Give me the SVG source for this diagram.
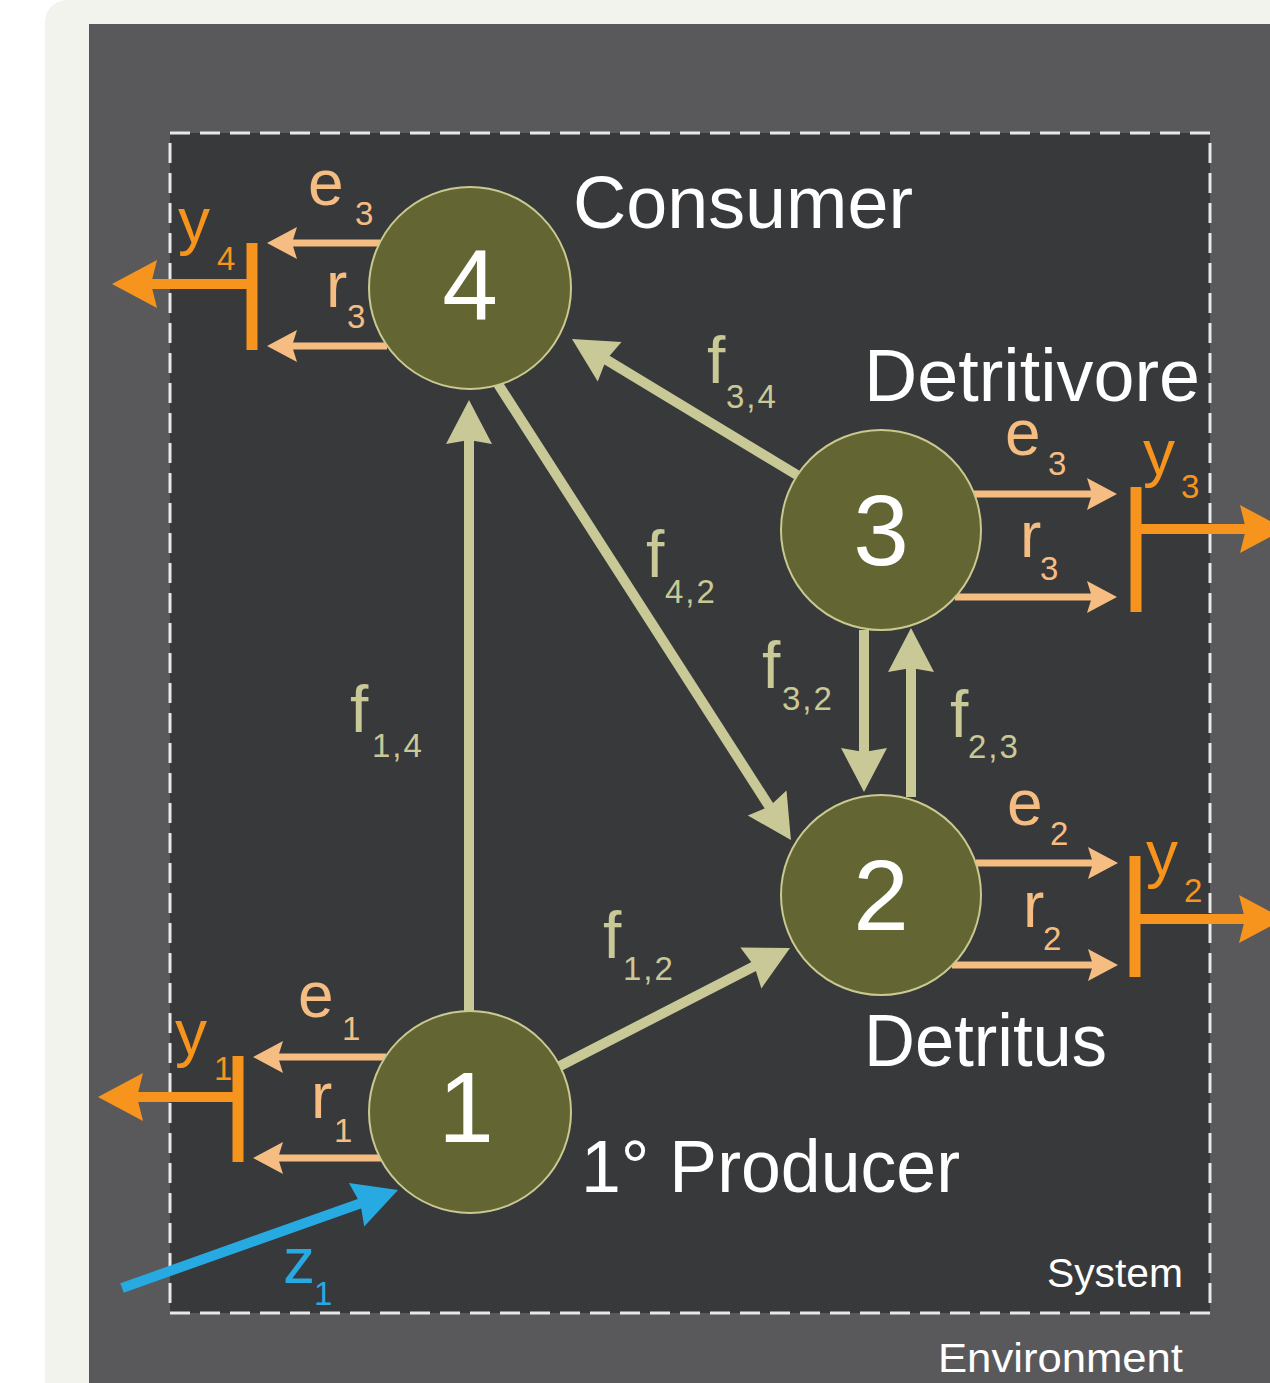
<svg xmlns="http://www.w3.org/2000/svg" width="1270" height="1383" viewBox="0 0 1270 1383">
<style>
  text { font-family: "Liberation Sans", Arial, sans-serif; }
  .node circle { fill: #636633; stroke: #c9c990; stroke-width: 2; }
  .num { fill: #ffffff; font-size: 100px; text-anchor: middle; }
  .big { fill: #ffffff; font-size: 74px; }
  .small { fill: #ffffff; font-size: 40px; }
  .flow { stroke: #c9c997; stroke-width: 10; fill: none; }
  .out { stroke: #f6bd82; stroke-width: 7; fill: none; }
  .org { stroke: #f7941d; stroke-width: 10; fill: none; }
  .bar { stroke: #f7941d; stroke-width: 11; fill: none; }
  .inp { stroke: #27aae1; stroke-width: 10; fill: none; }
  .fl { fill: #c9c997; font-size: 66px; }
  .tl { fill: #f6bd82; font-size: 64px; }
  .ol { fill: #f7941d; font-size: 64px; }
  .bl { fill: #27aae1; font-size: 64px; }
  .sub { font-size: 33px; letter-spacing: 2px; }
</style>
<defs>
  <marker id="mf" markerUnits="userSpaceOnUse" orient="auto" refX="0" refY="0" markerWidth="1" markerHeight="1" overflow="visible">
    <path d="M38,0 L-6,-23 L-2,0 L-6,23 Z" fill="#c9c997"/>
  </marker>
  <marker id="mt" markerUnits="userSpaceOnUse" orient="auto" refX="0" refY="0" markerWidth="1" markerHeight="1" overflow="visible">
    <path d="M24,0 L-6,-16 L-1,0 L-6,16 Z" fill="#f6bd82"/>
  </marker>
  <marker id="mo" markerUnits="userSpaceOnUse" orient="auto" refX="0" refY="0" markerWidth="1" markerHeight="1" overflow="visible">
    <path d="M36,0 L-9,-24 L-3,0 L-9,24 Z" fill="#f7941d"/>
  </marker>
  <marker id="mb" markerUnits="userSpaceOnUse" orient="auto" refX="0" refY="0" markerWidth="1" markerHeight="1" overflow="visible">
    <path d="M38,0 L-6,-23 L-2,0 L-6,23 Z" fill="#27aae1"/>
  </marker>
</defs>

<g id="background">
  <rect x="0" y="0" width="1270" height="1383" fill="#ffffff"/>
  <rect x="45" y="0" width="1300" height="1420" rx="22" fill="#f3f3ee"/>
  <rect x="89" y="24" width="1200" height="1380" fill="#59595b"/>
  <rect x="170" y="133" width="1040" height="1180" fill="#38393b" stroke="#e8e8e8" stroke-width="3" stroke-dasharray="20 10"/>
  <text class="small" x="1047" y="1287" textLength="136" lengthAdjust="spacingAndGlyphs">System</text>
  <text class="small" x="938" y="1372" textLength="245" lengthAdjust="spacingAndGlyphs">Environment</text>
</g>

<g id="connectors">
  <line class="flow" x1="469" y1="1012" x2="469" y2="438" marker-end="url(#mf)"/>
  <line class="flow" x1="498" y1="384" x2="770.4" y2="808.1" marker-end="url(#mf)"/>
  <line class="flow" x1="797" y1="475" x2="604.5" y2="358.6" marker-end="url(#mf)"/>
  <line class="flow" x1="864" y1="630" x2="864" y2="754" marker-end="url(#mf)"/>
  <line class="flow" x1="911" y1="797" x2="911" y2="666" marker-end="url(#mf)"/>
  <line class="flow" x1="560" y1="1066" x2="756.2" y2="965.3" marker-end="url(#mf)"/>
  <line class="inp" x1="122" y1="1288" x2="362.2" y2="1202.7" marker-end="url(#mb)"/>

  <line class="out" x1="380" y1="243" x2="291" y2="243" marker-end="url(#mt)"/>
  <line class="out" x1="387" y1="346" x2="291" y2="346" marker-end="url(#mt)"/>
  <line class="out" x1="974" y1="494" x2="1093" y2="494" marker-end="url(#mt)"/>
  <line class="out" x1="955" y1="597" x2="1093" y2="597" marker-end="url(#mt)"/>
  <line class="out" x1="976" y1="863" x2="1094" y2="863" marker-end="url(#mt)"/>
  <line class="out" x1="952" y1="965" x2="1094" y2="965" marker-end="url(#mt)"/>
  <line class="out" x1="386" y1="1057" x2="277" y2="1057" marker-end="url(#mt)"/>
  <line class="out" x1="381" y1="1158" x2="277" y2="1158" marker-end="url(#mt)"/>

  <line class="bar" x1="252" y1="243" x2="252" y2="350"/>
  <line class="org" x1="252" y1="284" x2="148" y2="284" marker-end="url(#mo)"/>
  <line class="bar" x1="1136" y1="487" x2="1136" y2="612"/>
  <line class="org" x1="1136" y1="529" x2="1249" y2="529" marker-end="url(#mo)"/>
  <line class="bar" x1="1135" y1="856" x2="1135" y2="977"/>
  <line class="org" x1="1135" y1="919" x2="1248" y2="919" marker-end="url(#mo)"/>
  <line class="bar" x1="238" y1="1056" x2="238" y2="1162"/>
  <line class="org" x1="238" y1="1097" x2="134" y2="1097" marker-end="url(#mo)"/>
</g>

<g id="connector-labels">
  <text class="fl" x="707" y="383">f</text><text class="fl sub" x="726" y="408">3,4</text>
  <text class="fl" x="646" y="577">f</text><text class="fl sub" x="665" y="603">4,2</text>
  <text class="fl" x="762" y="688">f</text><text class="fl sub" x="782" y="710">3,2</text>
  <text class="fl" x="950" y="737">f</text><text class="fl sub" x="968" y="758">2,3</text>
  <text class="fl" x="603" y="958">f</text><text class="fl sub" x="623" y="980">1,2</text>
  <text class="fl" x="350" y="732">f</text><text class="fl sub" x="372" y="757">1,4</text>

  <text class="tl" x="308" y="205">e</text><text class="tl sub" x="355" y="225">3</text>
  <text class="tl" x="326" y="307">r</text><text class="tl sub" x="347" y="328">3</text>
  <text class="ol" x="178" y="243">y</text><text class="ol sub" x="217" y="270">4</text>

  <text class="tl" x="1005" y="455">e</text><text class="tl sub" x="1048" y="475">3</text>
  <text class="tl" x="1020" y="557">r</text><text class="tl sub" x="1040" y="580">3</text>
  <text class="ol" x="1143" y="475">y</text><text class="ol sub" x="1181" y="498">3</text>

  <text class="tl" x="1007" y="825">e</text><text class="tl sub" x="1050" y="845">2</text>
  <text class="tl" x="1023" y="927">r</text><text class="tl sub" x="1043" y="950">2</text>
  <text class="ol" x="1146" y="876">y</text><text class="ol sub" x="1184" y="902">2</text>

  <text class="tl" x="298" y="1017">e</text><text class="tl sub" x="342" y="1040">1</text>
  <text class="tl" x="311" y="1118">r</text><text class="tl sub" x="334" y="1142">1</text>
  <text class="ol" x="175" y="1055">y</text><text class="ol sub" x="214" y="1080">1</text>

  <text class="bl" x="283" y="1283">z</text><text class="bl sub" x="314" y="1305">1</text>
</g>

<g id="node4" class="node">
  <circle cx="470" cy="288" r="101"/>
  <text class="num" x="470" y="320">4</text>
  <text class="big" x="573" y="228" textLength="340" lengthAdjust="spacingAndGlyphs">Consumer</text>
</g>
<g id="node3" class="node">
  <circle cx="881" cy="530" r="100"/>
  <text class="num" x="881" y="565">3</text>
  <text class="big" x="864" y="401" textLength="336" lengthAdjust="spacingAndGlyphs">Detritivore</text>
</g>
<g id="node2" class="node">
  <circle cx="881" cy="895" r="100"/>
  <text class="num" x="881" y="930">2</text>
  <text class="big" x="864" y="1066" textLength="243" lengthAdjust="spacingAndGlyphs">Detritus</text>
</g>
<g id="node1" class="node">
  <circle cx="470" cy="1112" r="101"/>
  <text class="num" x="466" y="1142">1</text>
  <text class="big" x="581" y="1192" textLength="379" lengthAdjust="spacingAndGlyphs">1° Producer</text>
</g>
</svg>
